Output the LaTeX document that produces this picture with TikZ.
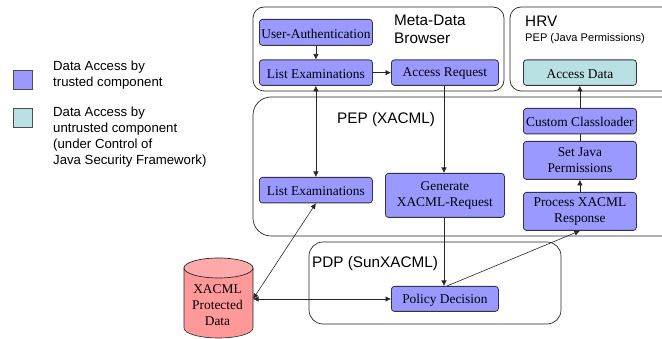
\documentclass[tikz,border=0pt]{standalone}
\usepackage{fontspec}
\setmainfont{Liberation Serif}
\newfontfamily\lsans{Liberation Sans}
\usetikzlibrary{arrows.meta}
\definecolor{trustblue}{HTML}{9999FF}
\definecolor{untrust}{HTML}{B9E0E2}
\definecolor{dbred}{HTML}{FF9999}
\definecolor{dbtop}{HTML}{FFAAAA}
\definecolor{edge}{HTML}{333344}
\tikzset{
 x=1pt,y=-1pt,
 group/.style={draw=black!85,line width=0.7pt,rounded corners=11pt},
 comp/.style={draw=edge,line width=0.8pt,rounded corners=3pt,fill=trustblue,font=\fontsize{13.4}{16}\selectfont,align=center,anchor=north west,inner sep=0pt,execute at begin node={\rule{0pt}{11.5pt}}},
 ucomp/.style={comp,fill=untrust},
 conn/.style={draw=black!85,line width=0.6pt,-{Latex[length=5.5pt,width=5.5pt]}},
 biconn/.style={draw=black!85,line width=0.6pt,{Latex[length=5.5pt,width=5.5pt]}-{Latex[length=5.5pt,width=5.5pt]}},
 plain/.style={draw=black!85,line width=0.6pt},
 lab/.style={font=\lsans\fontsize{15.3}{18}\selectfont,anchor=north west,inner sep=0pt,align=left},
 smalllab/.style={font=\lsans\fontsize{13.2}{15.8}\selectfont,anchor=north west,inner sep=0pt,align=left},
 swatch/.style={draw=black!70,line width=0.8pt,minimum width=19pt,minimum height=19pt,inner sep=0pt,anchor=north west},
}
\newcommand{\cbox}[7]{\node[#1,minimum width=#4 pt,minimum height=#5 pt] (#2) at #3 {#6};}
\begin{document}
\begin{tikzpicture}
\useasboundingbox (0,0) rectangle (662,339);
\begin{scope}
\clip (0,0) rectangle (662,339);
\draw[group] (253,7) rectangle (504,91);
\draw[group] (510,7) rectangle (675,91);
\draw[group,rounded corners=18pt] (253,97) rectangle (680,236);
\draw[group,rounded corners=14pt] (309,242) rectangle (561,324);
% database
\fill[dbred,draw=black!85,line width=0.6pt] (184,268) -- (184,328) arc[start angle=180,end angle=360,x radius=34.5,y radius=-10] -- (253,268) -- cycle;
\fill[dbtop,draw=black!85,line width=0.7pt] (218.5,268) ellipse [x radius=34.5,y radius=10];
\end{scope}
\node[inner sep=0pt,minimum width=69pt,minimum height=50pt,align=center,font=\fontsize{13.4}{16}\selectfont] (db) at (217.5,305.5) {XACML\\Protected\\Data};
\node[lab] (tmeta) at (394,15) {Meta-Data\\Browser};
\node[lab] (thrv) at (525,15.5) {HRV};
\node[font=\lsans\fontsize{11.1}{13}\selectfont,anchor=north west,inner sep=0pt] (tjava) at (525,33.5) {PEP (Java Permissions)};
\node[lab] (tpep) at (337,112) {PEP (XACML)};
\node[lab] (tpdp) at (312,256) {PDP (SunXACML)};
\cbox{comp}{ua}{(259,19)}{113}{26}{User-Authentication}{}
\cbox{comp}{le}{(259,59.5)}{113}{25.5}{List Examinations}{}
\cbox{comp}{ar}{(391,59.5)}{107}{25.5}{Access Request}{}
\cbox{ucomp}{ad}{(523,59.5)}{113}{25.5}{Access Data}{}
\cbox{comp}{cc}{(523,108)}{113}{25.5}{Custom Classloader}{}
\cbox{comp}{sj}{(523,141)}{113}{38}{Set Java\\Permissions}{}
\cbox{comp}{pr}{(523,192)}{113}{38}{Process XACML\\Response}{}
\cbox{comp}{lb}{(259,177)}{113}{25.5}{List Examinations}{}
\cbox{comp}{gx}{(385,173)}{119}{44}{Generate\\XACML-Request}{}
\cbox{comp}{pd}{(391,286)}{107}{25}{Policy Decision}{}
\coordinate (dbe) at (253,299);
\path[conn] (ua) -- (le);
\path[conn] (le) -- (ar);
\path[biconn] (le) -- (lb);
\path[biconn] (lb.south) -- (dbe);
\path[biconn] (dbe) -- (pd.west |- dbe);
\path[conn] (ar.south -| 444,0) -- (gx.north -| 444,0);
\path[conn] (gx.south -| 444,0) -- (pd.north -| 444,0);
\path[conn] (pd.north -| 447,0) -- (pr.south);
\path[conn] (pr) -- (sj);
\path[plain] (sj) -- (cc);
\path[conn] (cc) -- (ad);
\node[swatch,fill=trustblue] (s1) at (13,70) {};
\node[swatch,fill=untrust] (s2) at (13,108) {};
\node[smalllab] (l1) at (53,61) {Data Access by\\trusted component};
\node[smalllab] (l2) at (53,107) {Data Access by\\untrusted component\\(under Control of\\Java Security Framework)};
\end{tikzpicture}
\end{document}
